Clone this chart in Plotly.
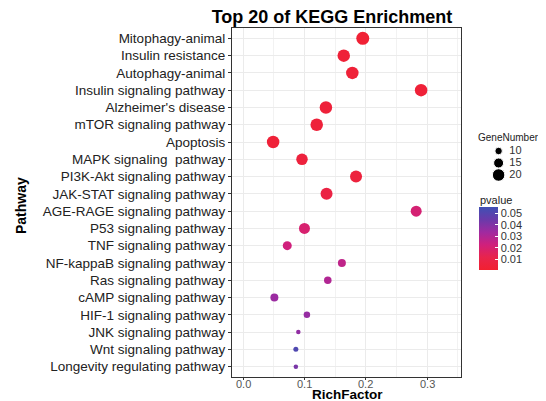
import plotly.graph_objects as go

pathways = ["Mitophagy-animal", "Insulin resistance", "Autophagy-animal", "Insulin signaling pathway",
            "Alzheimer's disease", "mTOR signaling pathway", "Apoptosis", "MAPK signaling  pathway",
            "PI3K-Akt signaling pathway", "JAK-STAT signaling pathway", "AGE-RAGE signaling pathway",
            "P53 signaling pathway", "TNF signaling pathway", "NF-kappaB signaling pathway",
            "Ras signaling pathway", "cAMP signaling pathway", "HIF-1 signaling pathway",
            "JNK signaling pathway", "Wnt signaling pathway", "Longevity regulating pathway"]
rich_factor = [0.195, 0.164, 0.178, 0.290, 0.135, 0.120, 0.049, 0.096, 0.184, 0.136,
               0.282, 0.100, 0.072, 0.161, 0.138, 0.051, 0.104, 0.090, 0.086, 0.086]
gene_number = [21, 20, 20, 20, 20, 20, 20, 18, 19, 19, 17, 17, 13, 11, 10, 11, 8, 4, 5, 4]
pvalue = [0.003, 0.004, 0.004, 0.004, 0.005, 0.005, 0.004, 0.006, 0.006, 0.009,
          0.021, 0.020, 0.023, 0.027, 0.030, 0.035, 0.036, 0.037, 0.052, 0.042]
legend_genes = [10, 15, 20]
pv_ticks = [0.01, 0.02, 0.03, 0.04, 0.05]
x_ticks = [0.0, 0.1, 0.2, 0.3]
x_ticklabels = ["0.0", "0.1", "0.2", "0.3"]

def gsize(g):
    return 2.5 + g * 0.5

colorscale = [[0, '#F22030'], [0.2, '#E8244C'], [0.4, '#D0207C'], [0.6, '#A02AA0'],
              [0.8, '#6A3AAA'], [1, '#3F50B4']]
font = "Liberation Sans, Arial, sans-serif"

OFF = 8  # page body margin
W, H = 546 - OFF, 401 - OFF
L, R = 232 - OFF, 0
T = 28 - OFF
B = H - (377 - OFF)
pw, ph = W - L - R, H - T - B
def px(x):  # reference pixel x -> paper
    return (x - OFF - L) / pw
def py(y):  # reference pixel y -> paper
    return (H - B - (y - OFF)) / ph

fig = go.Figure()
fig.add_trace(go.Scatter(
    x=rich_factor, y=pathways, mode='markers', showlegend=False,
    marker=dict(size=[gsize(g) for g in gene_number], color=pvalue, colorscale=colorscale,
                cmin=0.001, cmax=0.056, opacity=1, line=dict(width=0),
                colorbar=dict(tickvals=pv_ticks, ticktext=[f"{v:.2f}" for v in pv_ticks],
                              tickfont=dict(size=11, family=font, color="#333"),
                              x=px(479), xanchor="left", y=py(238), yanchor="middle",
                              len=63, lenmode="pixels", thickness=19, ypad=0, xpad=0,
                              outlinewidth=0, ticks="inside", ticklen=3, tickcolor="white",
                              ticklabelposition="outside")),
))
# size legend drawn on its own small axes
fig.add_trace(go.Scatter(
    x=[0.25] * len(legend_genes), y=[str(g) for g in legend_genes], mode='markers',
    marker=dict(size=[gsize(g) for g in legend_genes], color='black', opacity=1),
    xaxis='x2', yaxis='y2', showlegend=False, hoverinfo='skip'))
fig.add_trace(go.Scatter(
    x=[0.42] * len(legend_genes), y=[str(g) for g in legend_genes], mode='text',
    text=[str(g) for g in legend_genes], textposition='middle right',
    textfont=dict(size=11, family=font, color='#333'),
    xaxis='x2', yaxis='y2', showlegend=False, hoverinfo='skip'))

annotations = [
    dict(text="GeneNumber", x=px(476), y=py(137), xref='paper', yref='paper',
         xanchor='left', yanchor='middle', showarrow=False,
         font=dict(size=10, family=font, color='#222')),
    dict(text="pvalue", x=px(478), y=py(200), xref='paper', yref='paper',
         xanchor='left', yanchor='middle', showarrow=False,
         font=dict(size=11, family=font, color='#222')),
    dict(text="<b>RichFactor</b>", x=px(347), y=py(394.5), xref='paper', yref='paper',
         xanchor='center', yanchor='middle', showarrow=False,
         font=dict(size=13.5, family=font, color='black')),
    dict(text="<b>Pathway</b>", x=px(21), y=py(206), xref='paper', yref='paper',
         xanchor='center', yanchor='middle', showarrow=False, textangle=-90,
         font=dict(size=14, family=font, color='black')),
]
for v, t in zip(x_ticks, x_ticklabels):
    annotations.append(dict(text=t, x=v, xref='x', y=py(383.5), yref='paper',
                            xanchor='center', yanchor='middle', showarrow=False,
                            font=dict(size=11, family=font, color='#555')))

fig.update_layout(
    width=W, height=H,
    margin=dict(l=L, r=R, t=T, b=B),
    paper_bgcolor='white', plot_bgcolor='white',
    font=dict(family=font, color="#222"),
    showlegend=False,
    title=dict(text="<b>Top 20 of KEGG Enrichment</b>", x=(332 - OFF)/W, xanchor='center',
               y=1 - (17 - OFF)/H, yanchor='middle', font=dict(size=18, color='black', family=font)),
    xaxis=dict(domain=[0, px(461)], range=[-0.018, 0.355], tickvals=x_ticks,
               showticklabels=False, showgrid=True, gridcolor='#EBEBEB',
               minor=dict(dtick=0.05, tick0=0.05, showgrid=True, gridcolor='#F2F2F2'),
               zeroline=False, ticks='outside', ticklen=2, tickcolor='#333',
               showline=True, mirror=True, linecolor='#333', linewidth=1.2,
               automargin=False),
    yaxis=dict(domain=[0, 1], categoryorder='array', categoryarray=pathways, autorange=False,
               range=[19.6, -0.6], showgrid=True, gridcolor='#EBEBEB', zeroline=False,
               ticks='outside', ticklen=3, tickcolor='#333',
               showline=True, mirror=True, linecolor='#333', linewidth=1.2,
               tickfont=dict(size=13.5, color='#222'), automargin=False),
    xaxis2=dict(domain=[px(467), px(546)], range=[-0.25, 1], visible=False,
                fixedrange=True, anchor='y2'),
    yaxis2=dict(domain=[py(181), py(145)], type='category', categoryorder='array',
                categoryarray=[str(g) for g in legend_genes], range=[2.5, -0.5],
                visible=False, fixedrange=True, anchor='x2'),
    annotations=annotations,
)

fig.write_html("out.html")
